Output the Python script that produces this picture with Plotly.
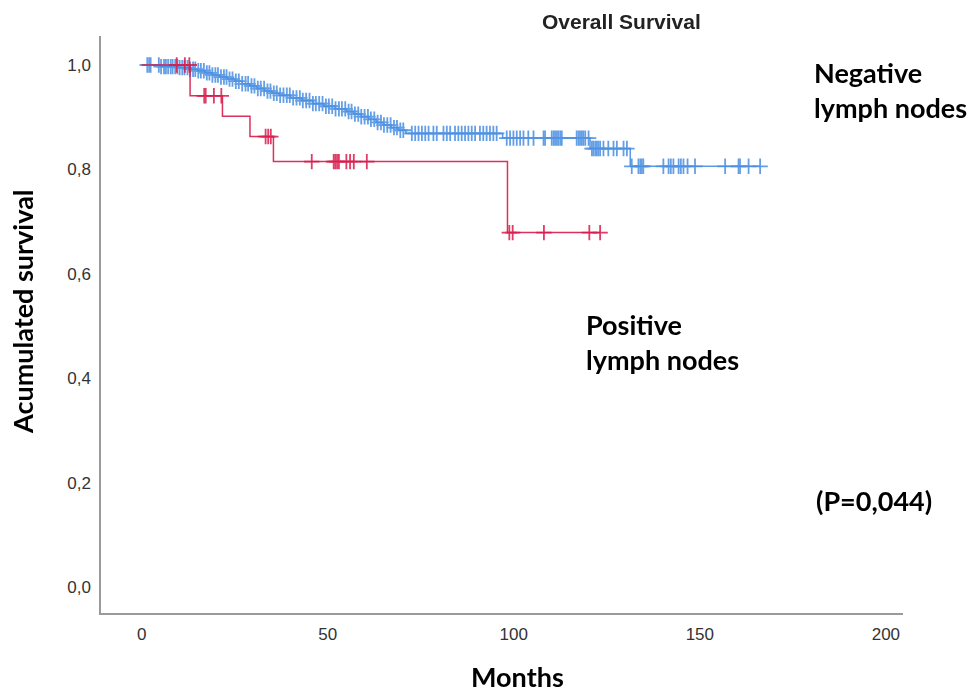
import numpy as np
import plotly.graph_objects as go

# Kaplan-Meier steps: event times (months) and survival after each event
neg_event_t = [5, 10, 13, 15, 17, 19, 21, 23, 25, 27, 29, 31, 33, 35, 37, 40, 43, 46,
               49, 52, 55, 57, 59, 61, 63, 65, 67, 69, 71, 97, 120.5, 131.3]
neg_event_s = [0.997, 0.995, 0.992, 0.989, 0.985, 0.981, 0.977, 0.973, 0.969, 0.964,
               0.960, 0.955, 0.950, 0.946, 0.942, 0.937, 0.932, 0.926, 0.921, 0.916,
               0.911, 0.906, 0.901, 0.896, 0.890, 0.885, 0.880, 0.875, 0.869, 0.860,
               0.840, 0.806]
neg_censored = [1.5, 2.0, 2.4, 4.6, 5.2, 6.0, 6.5, 7.1, 7.8, 8.3, 9.0, 9.6, 10.2, 10.9,
                11.5, 12.3, 13.0, 13.8, 14.4, 15.2, 15.9, 16.7, 17.5, 18.2, 19.0, 19.8,
                20.5, 21.3, 22.1, 22.8, 23.6, 24.4, 25.3, 26.1, 27.0, 27.9, 28.6, 29.5,
                30.3, 31.2, 32.0, 32.9, 33.8, 34.6, 35.5, 36.3, 37.2, 38.1, 39.0, 39.8,
                40.7, 41.6, 42.5, 43.3, 44.2, 45.1, 46.0, 46.8, 47.7, 48.6, 49.5, 50.3,
                51.2, 52.1, 53.0, 53.8, 54.7, 55.6, 56.4, 57.3, 58.2, 59.0, 59.9, 60.8,
                61.6, 62.5, 63.4, 64.3, 65.1, 66.0, 66.9, 67.8, 68.6, 69.5, 70.3,
                72.6, 73.5, 74.4, 75.3, 76.2, 77.1, 78.4, 79.3, 81.1, 82.0, 82.9, 84.2,
                85.1, 86.0, 86.9, 87.8, 88.7, 89.6, 90.9, 91.8, 92.7, 93.6, 94.5, 95.4,
                98.1, 99.0, 99.9, 100.8, 101.7, 102.6, 103.9, 105.3, 108.0, 108.4, 110.2,
                110.7, 111.1, 111.6, 112.0, 112.5, 112.9, 116.9, 117.4, 117.8, 118.3,
                118.7, 119.2, 120.1, 121.0, 121.4, 121.9, 122.3, 122.7, 123.2, 124.1,
                125.4, 126.8, 127.7, 129.5, 130.4, 131.7, 133.5, 134.0, 134.4, 134.8,
                140.2, 141.6, 142.2, 142.9, 144.3, 144.9, 145.6, 146.7, 148.7, 156.8,
                160.4, 160.8, 163.1, 166.2]

pos_event_t = [13.0, 21.7, 29.1, 35.4, 98.3]
pos_event_s = [0.941, 0.902, 0.863, 0.815, 0.679]
pos_censored = [9.4, 11.6, 12.8, 16.8, 17.2, 19.4, 21.4, 33.3, 34.0, 34.7, 45.7, 51.6,
                52.0, 52.5, 53.0, 55.0, 56.0, 57.0, 60.5, 98.8, 99.7, 108.1, 120.3, 123.2]

x_ticks = [0, 50, 100, 150, 200]
y_ticks = [0.0, 0.2, 0.4, 0.6, 0.8, 1.0]

NEG_COLOR = "#4a8fe2"
POS_COLOR = "#d81b4c"


def step_curve(ev_t, ev_s, cens):
    end = max(max(cens), max(ev_t))
    xs = [0] + list(ev_t) + [end]
    ys = [1.0] + list(ev_s) + [ev_s[-1]]
    return xs, ys


def surv_at(ev_t, ev_s, times):
    idx = np.searchsorted(np.array(ev_t), np.array(times), side="right")
    levels = np.concatenate([[1.0], ev_s])
    return levels[idx]


fig = go.Figure()

for ev_t, ev_s, cens, color in [(neg_event_t, neg_event_s, neg_censored, NEG_COLOR),
                                 (pos_event_t, pos_event_s, pos_censored, POS_COLOR)]:
    xs, ys = step_curve(ev_t, ev_s, cens)
    fig.add_trace(go.Scatter(x=xs, y=ys, mode="lines", line_shape="hv",
                             line=dict(color=color, width=1.5), opacity=0.9,
                             hoverinfo="skip", showlegend=False))
    fig.add_trace(go.Scatter(x=cens, y=surv_at(ev_t, ev_s, cens), mode="markers",
                             marker=dict(symbol="cross-thin", size=11,
                                         line=dict(color=color, width=1.8)),
                             opacity=0.85, showlegend=False))

L, R, T, B = 101, 73, 36, 83
W, H = 976, 696
pw, ph = W - L - R, H - T - B


def px(xp):
    return (xp - L) / pw


def py(yp):
    return (H - B - yp) / ph


label_font = dict(family="Lato, 'Open Sans', sans-serif", size=27, color="#000")
tick_font = dict(family="Liberation Sans, Arial, sans-serif", size=17, color="#333")
annots = [
    dict(text="<b>Overall Survival</b>", x=px(621), y=py(21),
         font=dict(family="Liberation Sans, Arial, sans-serif", size=21, color="#222")),
    dict(text="<b>Acumulated survival</b>", x=px(22), y=py(312), textangle=-90,
         font=label_font),
    dict(text="<b>Months</b>", x=px(517), y=py(695), yanchor="bottom", font=label_font),
    dict(text="<b>Negative<br>lymph nodes</b>", x=px(812), y=py(90), xanchor="left",
         align="left", font=label_font),
    dict(text="<b>Positive<br>lymph nodes</b>", x=px(584), y=py(342), xanchor="left",
         align="left", font=label_font),
    dict(text="<b>(P=0,044)</b>", x=px(814), y=py(500), xanchor="left", font=label_font),
]
for a in annots:
    a.update(xref="paper", yref="paper", showarrow=False)
    a.setdefault("xanchor", "center")
    a.setdefault("yanchor", "middle")

fig.update_layout(
    width=W, height=H, margin=dict(l=L, r=R, t=T, b=B),
    paper_bgcolor="white", plot_bgcolor="white",
    separators=", ",
    annotations=annots,
    xaxis=dict(range=[-10.94, 204.6], tickvals=x_ticks, showgrid=False, zeroline=False,
               showline=True, linecolor="#9a9a9a", linewidth=1.5,
               ticks="outside", ticklen=5, tickcolor="rgba(0,0,0,0)",
               tickfont=tick_font),
    yaxis=dict(range=[-0.0498, 1.0556], tickvals=y_ticks, tickformat=".1f",
               showgrid=False, zeroline=False,
               showline=True, linecolor="#9a9a9a", linewidth=1.5,
               ticks="outside", ticklen=5, tickcolor="rgba(0,0,0,0)",
               tickfont=tick_font),
)

fig.write_html("out.html")
